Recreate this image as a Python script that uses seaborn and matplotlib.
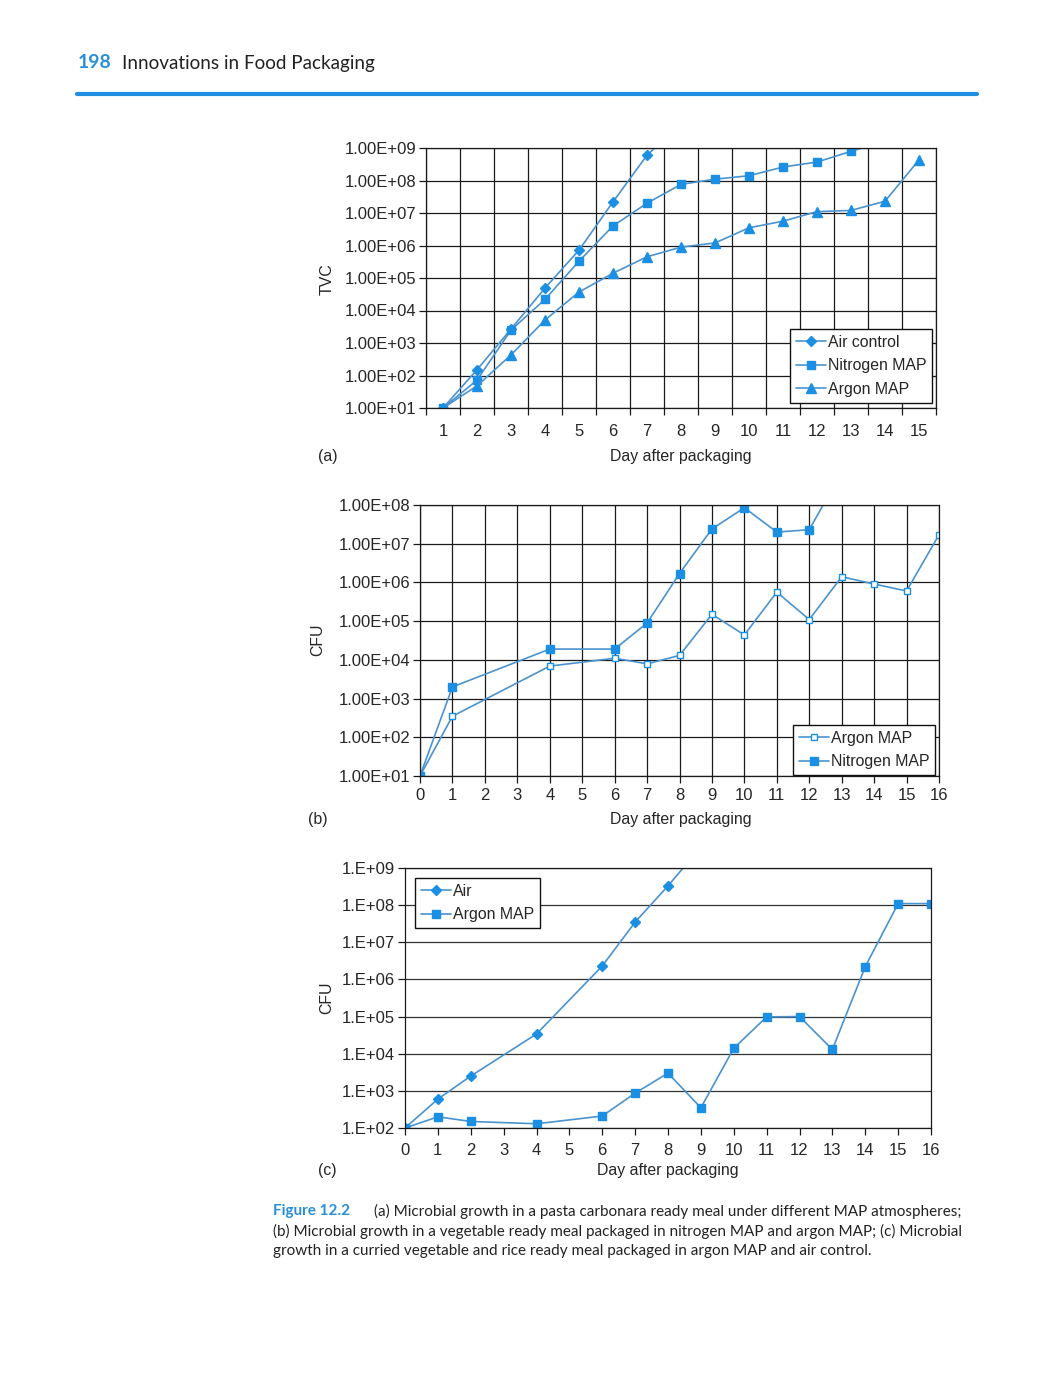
import seaborn as sns
import matplotlib.pyplot as plt
import matplotlib.ticker as mticker
from matplotlib.lines import Line2D

# ---- panel (a): pasta carbonara, TVC
days_air_a = [1, 2, 3, 4, 5, 6, 7, 8]
air_a = [1.0e1, 1.5e2, 2.7e3, 4.9e4, 7.2e5, 2.2e7, 6.0e8, 5.6e9]
days_nit_a = list(range(1, 15))
nit_a = [1.0e1, 7.2e1, 2.5e3, 2.2e4, 3.3e5, 4.0e6, 2.0e7, 7.6e7, 1.1e8, 1.4e8,
         2.6e8, 3.7e8, 7.9e8, 1.6e9]
days_arg_a = list(range(1, 16))
arg_a = [1.0e1, 4.8e1, 4.3e2, 5.1e3, 3.7e4, 1.4e5, 4.5e5, 8.9e5, 1.2e6, 3.5e6,
         5.6e6, 1.1e7, 1.2e7, 2.3e7, 4.3e8]
yticks_a = [1e1, 1e2, 1e3, 1e4, 1e5, 1e6, 1e7, 1e8, 1e9]
ylabels_a = ['1.00E+01', '1.00E+02', '1.00E+03', '1.00E+04', '1.00E+05',
             '1.00E+06', '1.00E+07', '1.00E+08', '1.00E+09']

# ---- panel (b): vegetable ready meal, CFU
days_nit_b = [0, 1, 4, 6, 7, 8, 9, 10, 11, 12, 13]
nit_b = [1.0e1, 2.0e3, 1.9e4, 1.9e4, 8.9e4, 1.7e6, 2.4e7, 8.5e7, 2.0e7, 2.3e7, 7.1e8]
days_arg_b = [0, 1, 4, 6, 7, 8, 9, 10, 11, 12, 13, 14, 15, 16]
arg_b = [1.0e1, 3.5e2, 6.9e3, 1.1e4, 7.9e3, 1.3e4, 1.5e5, 4.4e4, 5.6e5, 1.1e5,
         1.4e6, 9.1e5, 6.0e5, 1.7e7]
yticks_b = [1e1, 1e2, 1e3, 1e4, 1e5, 1e6, 1e7, 1e8]
ylabels_b = ['1.00E+01', '1.00E+02', '1.00E+03', '1.00E+04', '1.00E+05',
             '1.00E+06', '1.00E+07', '1.00E+08']

# ---- panel (c): curried vegetable and rice, CFU
days_air_c = [0, 1, 2, 4, 6, 7, 8, 9]
air_c = [1.0e2, 6.0e2, 2.5e3, 3.4e4, 2.3e6, 3.5e7, 3.3e8, 3.7e9]
days_arg_c = [0, 1, 2, 4, 6, 7, 8, 9, 10, 11, 12, 13, 14, 15, 16]
arg_c = [1.0e2, 2.0e2, 1.5e2, 1.3e2, 2.1e2, 8.7e2, 3.0e3, 3.5e2, 1.4e4, 9.8e4,
         1.0e5, 1.3e4, 2.2e6, 1.1e8, 1.1e8]
yticks_c = [1e2, 1e3, 1e4, 1e5, 1e6, 1e7, 1e8, 1e9]
ylabels_c = ['1.E+02', '1.E+03', '1.E+04', '1.E+05', '1.E+06', '1.E+07',
             '1.E+08', '1.E+09']

sns.set_style('ticks')
plt.rcParams['font.family'] = ['Liberation Sans', 'DejaVu Sans']
plt.rcParams['font.size'] = 12

W, H = 1060, 1390
fig = plt.figure(figsize=(W / 100, H / 100), dpi=100)
fig.patch.set_facecolor('white')

line_col = '#4a93cf'
mark_col = '#1b8fe3'
grid_col = '#1a1a1a'
FS = 12        # tick labels
FS_T = 11.4    # axis titles, legends


def box(l, t, r, b):
    return [l / W, 1 - b / H, (r - l) / W, (b - t) / H]


def fx(x):
    return x / W


def fy(y):
    return 1 - y / H


def series(ax, x, y, marker, label, ms=6, face=mark_col):
    sns.lineplot(x=x, y=y, ax=ax, color=line_col, lw=1.2, marker=marker,
                 markersize=ms, markerfacecolor=face, markeredgecolor=mark_col,
                 markeredgewidth=1.0, label=label, legend=False)


def style(ax, yticks, ylabels):
    ax.set_yscale('log')
    ax.set_ylim(yticks[0], yticks[-1])
    ax.yaxis.set_major_locator(mticker.FixedLocator(yticks))
    ax.yaxis.set_minor_locator(mticker.NullLocator())
    ax.set_yticklabels(ylabels)
    ax.tick_params(axis='both', which='both', direction='out', length=5,
                   width=0.9, color=grid_col, labelsize=FS, pad=2)
    for s in ax.spines.values():
        s.set_color(grid_col)
        s.set_linewidth(0.9)
    ax.set_xlabel('')
    ax.set_ylabel('')


def legend(ax, x, y):
    leg = ax.legend(loc='upper left', bbox_to_anchor=(x, y), borderaxespad=0,
                    fontsize=FS_T, frameon=True, fancybox=False, framealpha=1,
                    edgecolor='#111111', handlelength=1.9, handletextpad=0.15,
                    labelspacing=0.55, borderpad=0.35)
    leg.get_frame().set_linewidth(1.0)


# ---------------- (a)
ax_a = fig.add_axes(box(426, 148, 936, 408))
series(ax_a, days_air_a, air_a, 'D', 'Air control', ms=5.5)
series(ax_a, days_nit_a, nit_a, 's', 'Nitrogen MAP', ms=6)
series(ax_a, days_arg_a, arg_a, '^', 'Argon MAP', ms=6.5)
style(ax_a, yticks_a, ylabels_a)
ax_a.set_xlim(0.5, 15.5)
ax_a.set_xticks(days_arg_a)
ax_a.set_xticks([d + 0.5 for d in range(0, 16)], minor=True)
ax_a.tick_params(axis='x', which='major', length=0, pad=11.5)
ax_a.grid(True, which='minor', axis='x', color=grid_col, lw=0.9)
ax_a.grid(True, which='major', axis='y', color=grid_col, lw=0.9)
legend(ax_a, (790 - 426) / 510, (408 - 329) / 260)

# ---------------- (b)
ax_b = fig.add_axes(box(420, 505, 939, 776))
series(ax_b, days_arg_b, arg_b, 's', 'Argon MAP', ms=5, face='white')
series(ax_b, days_nit_b, nit_b, 's', 'Nitrogen MAP', ms=6)
style(ax_b, yticks_b, ylabels_b)
ax_b.set_xlim(0, 16)
ax_b.set_xticks(range(0, 17))
ax_b.tick_params(axis='x', pad=4)
ax_b.grid(True, which='major', axis='both', color=grid_col, lw=0.9)
legend(ax_b, (793 - 420) / 519, (776 - 725) / 271)

# ---------------- (c)
ax_c = fig.add_axes(box(405, 868, 931, 1128))
series(ax_c, days_air_c, air_c, 'D', 'Air', ms=5.5)
series(ax_c, days_arg_c, arg_c, 's', 'Argon MAP', ms=6)
style(ax_c, yticks_c, ylabels_c)
ax_c.set_xlim(0, 16)
ax_c.set_xticks(range(0, 17))
ax_c.tick_params(axis='x', pad=6)
ax_c.grid(True, which='major', axis='y', color='#333333', lw=0.9)
ax_c.grid(False, axis='x')
legend(ax_c, (415 - 405) / 526, (1128 - 878) / 260)

# axis titles and panel letters
for (yx, yy, ylab, xx, xy, plab, px) in [
        (327, 279, 'TVC', 681, 457, '(a)', 328),
        (318, 640, 'CFU', 681, 819, '(b)', 318),
        (327, 998, 'CFU', 668, 1171, '(c)', 327)]:
    fig.text(fx(yx), fy(yy), ylab, rotation=90, ha='center', va='center', fontsize=FS_T)
    fig.text(fx(xx), fy(xy), 'Day after packaging', ha='center', va='center', fontsize=FS_T)
    fig.text(fx(px), fy(xy), plab, ha='center', va='center', fontsize=FS_T)

# page header
blue = '#2a8fd8'
fig.text(fx(78), fy(63), '198', color=blue, fontsize=14, fontweight='bold',
         family=['Lato', 'DejaVu Sans'], va='center')
fig.text(fx(122), fy(63), 'Innovations in Food Packaging', color='#222222',
         fontsize=13.6, family=['Lato', 'DejaVu Sans'], va='center')
fig.add_artist(Line2D([fx(77), fx(977)], [fy(94), fy(94)], lw=3, color='#1e8fe0'))

# caption
cap_font = ['Lato', 'DejaVu Sans']
fig.text(fx(273), fy(1211), 'Figure 12.2', color=blue, fontsize=11,
         fontweight='bold', family=cap_font, va='center')
fig.text(fx(374), fy(1211),
         '(a) Microbial growth in a pasta carbonara ready meal under different MAP atmospheres;',
         color='#222222', fontsize=11, family=cap_font, va='center')
fig.text(fx(273), fy(1231),
         '(b) Microbial growth in a vegetable ready meal packaged in nitrogen MAP and argon MAP; (c) Microbial',
         color='#222222', fontsize=11, family=cap_font, va='center')
fig.text(fx(273), fy(1251),
         'growth in a curried vegetable and rice ready meal packaged in argon MAP and air control.',
         color='#222222', fontsize=11, family=cap_font, va='center')

fig.savefig('out.png', dpi=100, facecolor='white')
